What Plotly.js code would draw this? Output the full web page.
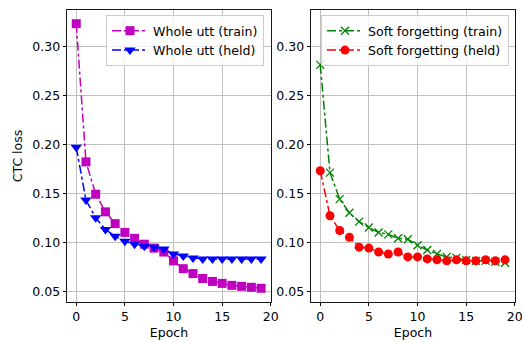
<!DOCTYPE html>
<html>
<head>
<meta charset="utf-8">
<script src="https://cdn.plot.ly/plotly-3.0.1.min.js"></script>
<style>html,body{margin:0;padding:0;background:#fff;}#chart{width:525px;height:342px;}</style>
</head>
<body>
<div id="chart"></div>
<script>
const epochs = [0,1,2,3,4,5,6,7,8,9,10,11,12,13,14,15,16,17,18,19];
const wholeTrain = [0.323,0.182,0.149,0.131,0.119,0.110,0.104,0.098,0.094,0.090,0.081,0.073,0.068,0.063,0.060,0.058,0.056,0.055,0.054,0.053];
const wholeHeld  = [0.197,0.143,0.125,0.113,0.106,0.101,0.098,0.096,0.095,0.093,0.088,0.086,0.084,0.083,0.083,0.083,0.083,0.083,0.083,0.083];
const softTrain  = [0.281,0.171,0.144,0.130,0.121,0.115,0.110,0.108,0.104,0.103,0.097,0.092,0.088,0.085,0.084,0.082,0.081,0.081,0.080,0.079];
const softHeld   = [0.173,0.127,0.112,0.105,0.095,0.094,0.090,0.088,0.090,0.085,0.085,0.083,0.082,0.081,0.082,0.081,0.081,0.082,0.081,0.082];
const yTicks = [0.05,0.10,0.15,0.20,0.25,0.30];
const xTicks = [0,5,10,15,20];

const font = {family: 'DejaVu Sans', size: 12.5, color: '#000'};
const legFont = {family: 'DejaVu Sans', size: 12.6, color: '#000'};
const traces = [
  {x: epochs, y: wholeTrain, name: 'Whole utt (train)', type: 'scatter', mode: 'lines+markers',
   line: {color: '#bf00bf', dash: 'dashdot', width: 1.5}, marker: {symbol: 'square', size: 9, color: '#bf00bf'},
   xaxis: 'x', yaxis: 'y', legend: 'legend'},
  {x: epochs, y: wholeHeld, name: 'Whole utt (held)', type: 'scatter', mode: 'lines+markers',
   line: {color: '#0000ff', dash: 'dashdot', width: 1.5}, marker: {symbol: 'triangle-down', size: 10, color: '#0000ff'},
   xaxis: 'x', yaxis: 'y', legend: 'legend'},
  {x: epochs, y: softTrain, name: 'Soft forgetting (train)', type: 'scatter', mode: 'lines+markers',
   line: {color: '#008000', dash: 'dashdot', width: 1.5}, marker: {symbol: 'x-thin-open', size: 8, color: '#008000', line: {width: 1.3, color: '#008000'}},
   xaxis: 'x2', yaxis: 'y2', legend: 'legend2'},
  {x: epochs, y: softHeld, name: 'Soft forgetting (held)', type: 'scatter', mode: 'lines+markers',
   line: {color: '#ff0000', dash: 'dashdot', width: 1.5}, marker: {symbol: 'circle', size: 9, color: '#ff0000'},
   xaxis: 'x2', yaxis: 'y2', legend: 'legend2'}
];

const xBase = {range: [-0.95, 20.02], tickvals: xTicks, ticks: 'outside', ticklen: 3.5, tickcolor: '#000',
  showline: true, mirror: true, linecolor: '#000', linewidth: 0.9, showgrid: true, gridcolor: '#b0b0b0', gridwidth: 0.8,
  zeroline: false, tickfont: font, title: {text: 'Epoch', font: font, standoff: 4}};
const yBase = {range: [0.039, 0.337], tickvals: yTicks, tickformat: '.2f', ticks: 'outside', ticklen: 3.5, tickcolor: '#000',
  showline: true, mirror: true, linecolor: '#000', linewidth: 0.9, showgrid: true, gridcolor: '#b0b0b0', gridwidth: 0.8,
  zeroline: false, tickfont: font};
const legBase = {font: legFont, bgcolor: 'rgba(255,255,255,0.8)', bordercolor: '#cccccc', borderwidth: 1,
  xanchor: 'right', yanchor: 'top', tracegroupgap: 0, itemwidth: 36};

const layout = {
  width: 525, height: 342, margin: {l: 0, r: 0, t: 0, b: 0}, paper_bgcolor: '#fff', plot_bgcolor: '#fff',
  font: font, showlegend: true,
  xaxis: Object.assign({}, xBase, {domain: [67/525, 271/525], anchor: 'y'}),
  yaxis: Object.assign({}, yBase, {domain: [1-302/342, 1-10/342], anchor: 'x', title: {text: 'CTC loss', font: font, standoff: 6}}),
  xaxis2: Object.assign({}, xBase, {domain: [311/525, 515/525], anchor: 'y2'}),
  yaxis2: Object.assign({}, yBase, {domain: [1-302/342, 1-10/342], anchor: 'x2'}),
  legend: Object.assign({}, legBase, {x: 264/525, y: 1-15/342}),
  legend2: Object.assign({}, legBase, {x: 509/525, y: 1-15/342})
};
Plotly.newPlot('chart', traces, layout, {staticPlot: true, displayModeBar: false});
</script>
</body>
</html>
